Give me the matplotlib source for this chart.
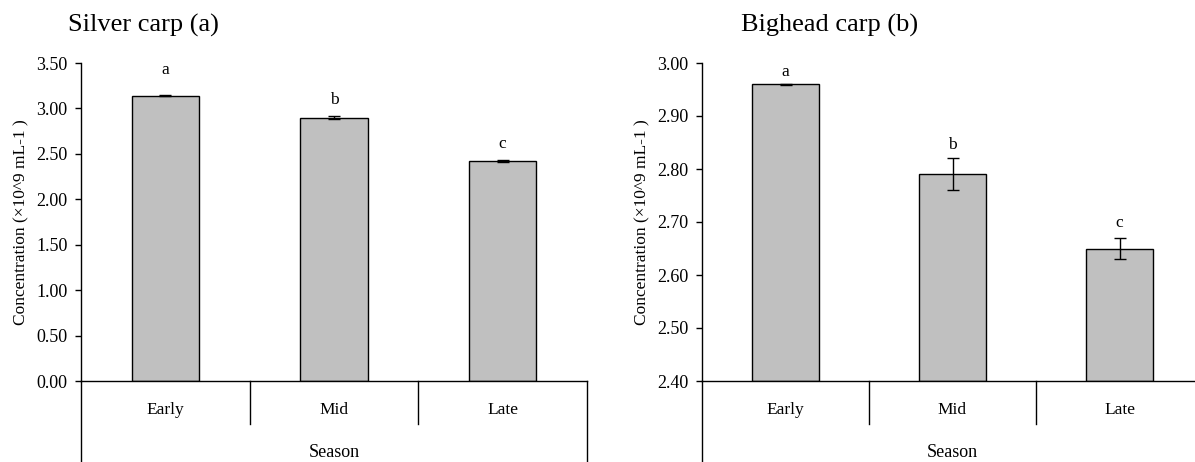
import numpy as np
import matplotlib.pyplot as plt

plt.rcParams["font.family"] = ["Liberation Serif", "DejaVu Serif"]

# data
seasons = ["Early", "Mid", "Late"]

silver_mean = [3.14, 2.90, 2.42]
silver_err = [0.003, 0.02, 0.015]
silver_letters = ["a", "b", "c"]
silver_letter_y = [3.38, 3.05, 2.56]

bighead_mean = [2.96, 2.79, 2.65]
bighead_err = [0.001, 0.03, 0.02]
bighead_letters = ["a", "b", "c"]
bighead_letter_y = [2.975, 2.838, 2.69]

W, H = 1195, 462
fig = plt.figure(figsize=(W / 100, H / 100), dpi=100)


def panel(left_px, width_px, means, errs, letters, letter_y, ylim, ticks, title, title_x, title_size):
    ax = fig.add_axes([left_px / W, (H - 381) / H, width_px / W, (381 - 63) / H])
    x = np.arange(len(seasons))
    ax.bar(x, [m - ylim[0] for m in means], bottom=ylim[0], width=0.4,
           color="#c0c0c0", edgecolor="black", linewidth=1.0, zorder=2)
    ax.errorbar(x, means, yerr=errs, fmt="none", ecolor="black",
                elinewidth=1.0, capsize=4.5, capthick=1.0, zorder=3)
    for xi, lab, ly in zip(x, letters, letter_y):
        ax.text(xi, ly, lab, ha="center", va="baseline", fontsize=12.5)

    ax.set_xlim(-0.5, len(seasons) - 0.5)
    ax.set_ylim(*ylim)
    ax.set_yticks(ticks)
    ax.set_yticklabels(["%.2f" % t for t in ticks], fontsize=13)
    ax.tick_params(axis="y", direction="out", length=4.3, width=1.0, pad=5.5)
    ax.tick_params(axis="x", length=0, labelbottom=False)
    for s in ["top", "right"]:
        ax.spines[s].set_visible(False)
    for s in ["left", "bottom"]:
        ax.spines[s].set_linewidth(1.0)

    ax.set_ylabel("Concentration (\u00d710^9 mL-1 )", fontsize=12.5, labelpad=5)

    # category axis below the plot
    tr = ax.get_xaxis_transform()
    for b in np.arange(0.5, len(seasons) - 1, 1.0):
        ax.plot([b, b], [0, -0.135], color="black", lw=1.0, transform=tr, clip_on=False)
    ax.plot([-0.5, -0.5], [0, -0.26], color="black", lw=1.0, transform=tr, clip_on=False)
    ax.plot([len(seasons) - 0.5] * 2, [0, -0.26], color="black", lw=1.0,
            transform=tr, clip_on=False)
    for xi, s in zip(x, seasons):
        ax.text(xi, -0.09, s, ha="center", va="center", fontsize=12.5, transform=tr)
    ax.text((len(seasons) - 1) / 2, -0.225, "Season", ha="center", va="center",
            fontsize=13, transform=tr)

    fig.text(title_x / W, (H - 25) / H, title, ha="left", va="center", fontsize=title_size)
    return ax


panel(81, 506, silver_mean, silver_err, silver_letters, silver_letter_y,
      (0, 3.5), np.arange(0, 3.51, 0.5), "Silver carp (a)", 68, 19)
panel(702, 501, bighead_mean, bighead_err, bighead_letters, bighead_letter_y,
      (2.4, 3.0), np.arange(2.4, 3.001, 0.1), "Bighead carp (b)", 741, 19)

fig.savefig("out.png", dpi=100)
